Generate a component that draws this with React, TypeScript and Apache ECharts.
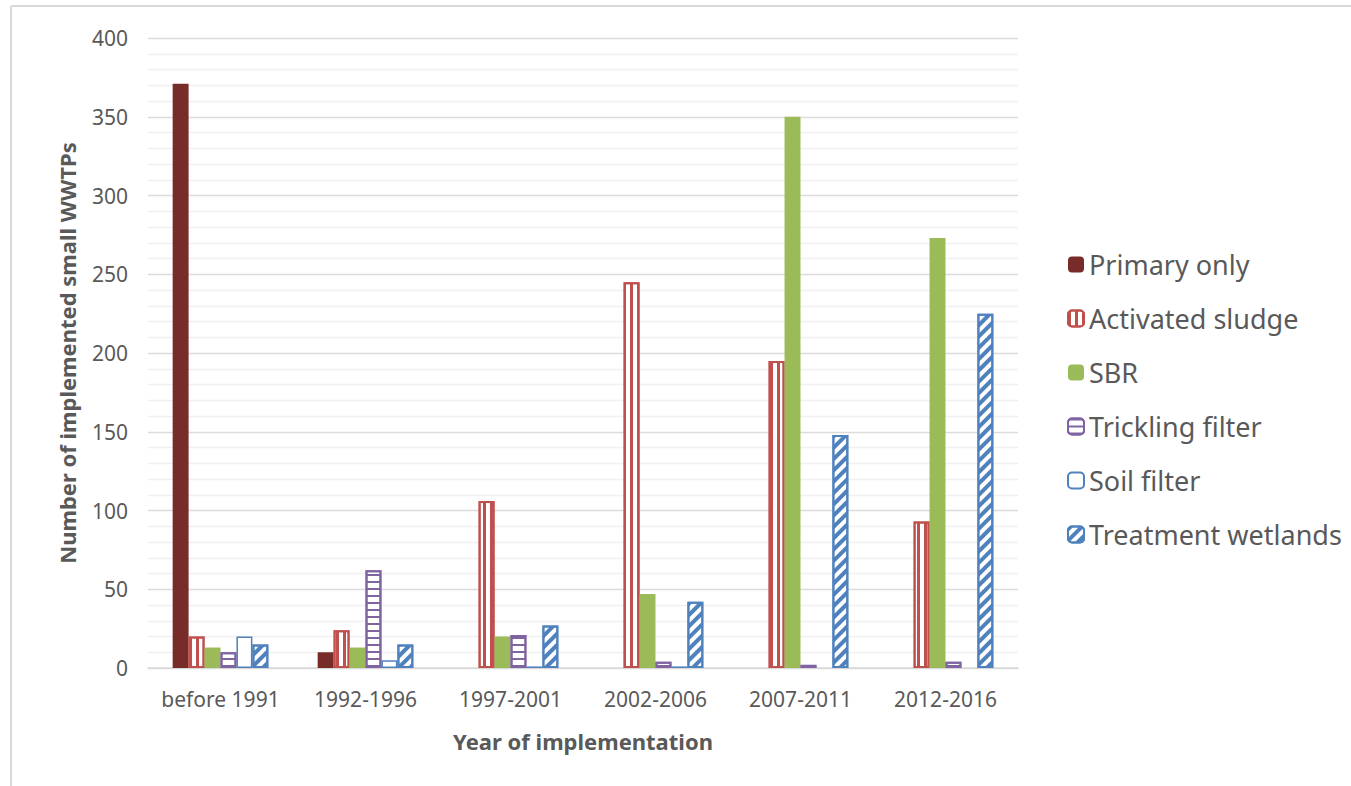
import React, { useEffect, useRef } from "react";
import * as echarts from "echarts";

const categories = ["before 1991", "1992-1996", "1997-2001", "2002-2006", "2007-2011", "2012-2016"];
const seriesNames = ["Primary only", "Activated sludge", "SBR", "Trickling filter", "Soil filter", "Treatment wetlands"];
const primaryOnly = [371, 10, 0, 0, 0, 0];
const activatedSludge = [20, 24, 106, 245, 195, 93];
const sbr = [13, 13, 20, 47, 350, 273];
const tricklingFilter = [10, 62, 21, 4, 2, 4];
const soilFilter = [20, 5, 1, 1, 0, 0];
const treatmentWetlands = [15, 15, 27, 42, 148, 225];
const yTicks = [0, 50, 100, 150, 200, 250, 300, 350, 400];

const FONT = "'Noto Sans', 'Open Sans', sans-serif";
const TEXT = "#595959";

export default function App() {
  const ref = useRef<HTMLDivElement>(null);
  useEffect(() => {
    if (!ref.current) return;
    const chart = echarts.init(ref.current, null, { renderer: "svg" });
    const nz = (a: number[]) => a.map((v) => (v === 0 ? null : v));
    const styles: any[] = [
      { color: "#772c2a" },
      {
        color: "#ffffff",
        borderColor: "#c0504d",
        borderWidth: 2,
        decal: { symbol: "rect", color: "#c0504d", dashArrayX: [3, 4], dashArrayY: [10, 0], symbolSize: 1 },
      },
      { color: "#9bbb59" },
      {
        color: "#ffffff",
        borderColor: "#8064a2",
        borderWidth: 2,
        decal: { symbol: "rect", color: "#8064a2", dashArrayX: [10, 0], dashArrayY: [2, 5], symbolSize: 1 },
      },
      { color: "#ffffff", borderColor: "#4f81bd", borderWidth: 1.5 },
      {
        color: "#ffffff",
        borderColor: "#4f81bd",
        borderWidth: 2,
        decal: { symbol: "rect", color: "#4f81bd", dashArrayX: [3.5, 3.5], dashArrayY: [10, 0], rotation: Math.PI / 4, symbolSize: 1 },
      },
    ];
    const datas = [primaryOnly, activatedSludge, sbr, tricklingFilter, soilFilter, treatmentWetlands];
    chart.setOption({
      animation: false,
      aria: { enabled: false, decal: { show: false } },
      graphic: [
        { type: "line", shape: { x1: 11, y1: 6, x2: 1351, y2: 6 }, style: { stroke: "#d9d9d9", lineWidth: 2 } },
        { type: "line", shape: { x1: 11, y1: 6, x2: 11, y2: 786 }, style: { stroke: "#d9d9d9", lineWidth: 2 } },
      ],
      grid: { left: 148, right: 333, top: 38, bottom: 118, containLabel: false },
      legend: {
        orient: "vertical",
        left: 1062,
        top: 246,
        itemWidth: 16,
        itemHeight: 16,
        itemGap: 27,
        data: seriesNames,
        textStyle: { fontFamily: FONT, fontSize: 27, color: TEXT, lineHeight: 27, padding: [0, 0, 0, 0] },
      },
      xAxis: {
        type: "category",
        data: categories,
        axisLine: { show: true, lineStyle: { color: "#d9d9d9", width: 1.5 } },
        axisTick: { show: false },
        axisLabel: { fontFamily: FONT, fontSize: 21, color: TEXT, margin: 20, interval: 0 },
        name: "Year of implementation",
        nameLocation: "middle",
        nameGap: 62,
        nameTextStyle: { fontFamily: FONT, fontSize: 22, fontWeight: "bold", color: TEXT },
      },
      yAxis: {
        type: "value",
        min: yTicks[0],
        max: yTicks[yTicks.length - 1],
        interval: 50,
        axisLine: { show: false },
        axisTick: { show: false },
        axisLabel: { fontFamily: FONT, fontSize: 21, color: TEXT, margin: 20 },
        splitLine: { show: true, lineStyle: { color: "#dcdcdc", width: 1.3 } },
        minorTick: { show: false, splitNumber: 5 },
        minorSplitLine: { show: true, lineStyle: { color: "#f0f0f0", width: 1.3 } },
        name: "Number of implemented small WWTPs",
        nameLocation: "middle",
        nameGap: 70,
        nameTextStyle: { fontFamily: FONT, fontSize: 22, fontWeight: "bold", color: TEXT },
      },
      series: seriesNames.map((name, i) => ({
        name,
        type: "bar",
        data: nz(datas[i]),
        barGap: "0%",
        barCategoryGap: "34%",
        itemStyle: styles[i],
        emphasis: { disabled: true },
      })),
    });
    return () => chart.dispose();
  }, []);
  return (
    <div
      ref={ref}
      style={{ position: "fixed", left: 0, top: 0, width: 1351, height: 786, background: "#ffffff" }}
    />
  );
}
